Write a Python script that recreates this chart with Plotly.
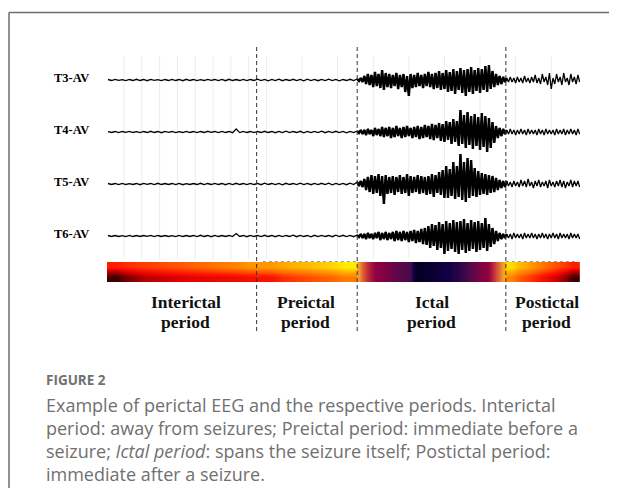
import plotly.graph_objects as go

# ---------------- data ----------------
channels = ["T3-AV", "T4-AV", "T5-AV", "T6-AV"]
channel_offset_uv = [1560, 1040, 520, 0]          # vertical offsets of the montage rows (µV)

period_names = ["Interictal", "Preictal", "Ictal", "Postictal"]
period_bounds_s = [83.5, 140.0, 223.5]            # dashed boundaries (s)
period_label_s = [43.8, 111.2, 182.0, 246.6]      # label centres (s)
record_end_s = 264.0

green_marks_s = [9, 19, 29, 39, 49, 59, 69, 79, 89, 109, 129, 149, 169, 189, 209, 229, 249]

# sample times of the amplitude envelopes
t_inter = list(range(0, 137, 4))        # interictal + preictal, 35 samples
t_ictal = list(range(140, 223, 2))      # ictal, 42 samples
t_post = list(range(224, 265, 2))       # postictal, 21 samples

# peak deflection above / below the baseline (µV)
env_up = {
    "T3-AV": [5,6,4,5,7,5,6,4,5,6,5,7,5,4,6,5,5,7,5,6,5,8,5,6,9,5,7,5,8,6,5,9,6,5,7]
           + [10,20,40,60,50,80,60,100,70,60,50,70,50,60,40,60,50,70,50,60,80,60,70,90,70,100,80,110,90,120,100,110,130,100,120,110,140,150,90,60,40,30]
           + [20,30,20,30,20,40,20,30,50,20,60,30,70,20,60,30,70,20,60,30,50],
    "T4-AV": [4,5,5,6,4,5,7,5,6,5,4,6,5,5,7,5,6,5,30,6,5,5,7,5,6,8,5,7,5,6,9,5,7,6,5]
           + [10,20,20,30,20,40,30,50,40,50,40,60,40,50,60,40,50,60,50,70,60,80,70,90,80,110,100,130,110,220,170,200,160,180,150,190,160,140,100,60,40,30]
           + [20,30,20,20,30,20,30,20,20,30,20,30,20,20,30,20,30,20,30,20,30],
    "T5-AV": [5,5,6,4,5,6,5,7,5,5,6,4,5,7,5,6,5,5,7,5,6,5,8,5,6,7,5,8,6,5,7,9,5,6,8]
           + [20,30,50,70,90,80,100,80,90,70,80,70,90,70,100,80,70,90,80,70,80,100,90,120,140,180,150,220,180,300,220,260,240,160,130,110,100,90,80,60,40,30]
           + [30,20,30,20,40,30,50,20,30,40,20,30,40,20,30,40,30,20,40,30,30],
    "T6-AV": [5,5,4,6,5,5,6,5,5,4,6,5,5,7,5,6,5,5,25,5,6,5,7,5,6,5,8,6,5,7,6,5,8,7,6]
           + [10,20,20,30,20,30,40,30,40,30,40,50,40,50,40,50,60,50,70,80,100,120,110,140,120,150,130,160,140,150,170,130,160,140,150,130,180,120,80,50,30,20]
           + [20,20,30,20,20,30,20,30,20,20,30,20,20,30,20,30,20,20,30,20,20],
}
env_dn = {
    "T3-AV": [5,4,6,5,5,7,4,6,5,5,7,5,6,5,4,6,7,5,5,6,5,6,8,5,7,5,6,9,5,7,6,5,8,5,6]
           + [10,20,40,50,70,60,80,100,70,80,60,90,70,120,160,80,70,60,80,60,70,90,80,100,90,120,110,140,100,130,160,120,140,110,130,100,120,90,70,50,40,20]
           + [20,20,30,20,30,20,30,20,30,40,20,50,90,40,20,50,20,50,20,40,20],
    "T4-AV": [5,6,4,5,6,5,5,7,4,6,5,5,6,5,4,6,5,7,6,5,6,5,5,7,5,6,5,8,6,5,7,6,5,8,6]
           + [10,20,30,20,40,30,40,50,40,60,50,40,60,50,40,60,50,70,60,50,70,80,60,90,100,80,120,100,140,120,160,130,170,140,180,150,200,160,110,60,40,20]
           + [20,20,30,20,20,30,20,20,30,20,30,20,20,30,20,20,30,20,20,30,20],
    "T5-AV": [5,6,5,5,7,4,6,5,5,6,7,5,5,6,5,5,7,6,5,6,5,7,5,6,8,5,6,5,7,6,5,8,6,7,5]
           + [20,30,60,80,100,90,120,200,100,90,110,80,100,90,120,90,80,100,90,110,100,130,90,110,140,140,120,150,130,160,180,140,120,130,110,100,110,90,80,60,40,30]
           + [20,30,20,30,20,30,20,40,20,30,20,40,20,30,20,30,40,20,30,20,30],
    "T6-AV": [5,5,6,5,5,4,6,5,5,6,5,5,6,5,7,5,5,6,5,7,5,6,5,7,6,5,7,5,8,6,5,7,6,5,7]
           + [10,20,30,20,30,20,40,30,40,30,50,40,50,40,60,50,70,60,80,90,120,100,140,120,180,150,130,160,180,140,170,150,130,160,140,120,150,110,80,50,30,20]
           + [20,30,20,20,30,20,20,20,30,20,20,30,20,20,30,20,20,30,20,20,30],
}

# state colour bar: sample times and levels (top edge / bottom edge of the bar)
bar_pre_s = [0, 20, 40, 62, 83, 85, 112, 139]
bar_pre_top = [0.55, 0.62, 0.68, 0.75, 0.82, 0.83, 0.90, 1.00]
bar_pre_bot = [0.08, 0.33, 0.42, 0.46, 0.50, 0.52, 0.65, 0.76]
bar_ictal_s = [140.5, 144.4, 148.3, 155.6, 163.0, 169.7, 170.6, 171.2, 181.0, 192.0, 200.6, 209.0, 214.6, 218.5, 222.0, 223.0]
bar_ictal_lvl = [0.92, 0.75, 0.58, 0.50, 0.40, 0.34, 0.32, 0.02, 0.08, 0.15, 0.30, 0.48, 0.58, 0.78, 0.92, 1.00]
bar_post_s = [224, 236, 250, 264.5]
bar_post_top = [0.97, 0.85, 0.68, 0.55]
bar_post_bot = [0.78, 0.62, 0.42, 0.08]

caption_head = "FIGURE 2"
caption_lines = [
    "Example of perictal EEG and the respective periods. Interictal",
    "period: away from seizures; Preictal period: immediate before a",
    "seizure; <i>Ictal period</i>: spans the seizure itself; Postictal period:",
    "immediate after a seizure.",
]

# ---------------- layout constants ----------------
OFF = 8                      # page body margin of the html page
W, H = 617 - OFF, 488 - OFF  # figure size so it fits the window
PX_PER_S = 1.78
X0_PX = 108
UV_PER_PX = 10.0
BASE_PX = 236                # screen row of the zero baseline (T6)


def fx(px):                  # screen column -> paper fraction
    return (px - OFF) / W


def fy(py):                  # screen row -> paper fraction
    return 1 - (py - OFF) / H


def px_to_s(px):
    return (px - X0_PX) / PX_PER_S


x_left_px, x_right_px = 107, 580
x_range = [px_to_s(x_left_px), px_to_s(x_right_px)]
y_top_px, y_bot_px = 40, 290
y_range = [(BASE_PX - y_bot_px) * UV_PER_PX, (BASE_PX - y_top_px) * UV_PER_PX]

fig = go.Figure()

t_all = t_inter + t_ictal + t_post
steps = [b - a for a, b in zip(t_all[:-1], t_all[1:])] + [2]
n_inter = len(t_inter)
n_ictal = len(t_ictal)
for name, off in zip(channels, channel_offset_uv):
    xs, ys = [], []
    for t, st, u, d in zip(t_all, steps, env_up[name], env_dn[name]):
        xs += [t, t + st / 2]
        ys += [off + u, off - d]
    fig.add_trace(go.Scatter(
        x=xs, y=ys, mode="lines",
        line=dict(color="#000000", width=1.3),
        hoverinfo="skip", showlegend=False, xaxis="x", yaxis="y"))
    # denser stroke over the seizure segment
    a, b = 2 * n_inter, 2 * (n_inter + n_ictal) + 1
    fig.add_trace(go.Scatter(
        x=xs[a:b], y=ys[a:b], mode="lines",
        line=dict(color="#000000", width=2.4),
        hoverinfo="skip", showlegend=False, xaxis="x", yaxis="y"))


def edges(centres, lo, hi):
    e = [lo]
    for a, b in zip(centres[:-1], centres[1:]):
        e.append((a + b) / 2)
    e.append(hi)
    return e


hot_scale = [[0, "#1a0000"], [0.2, "#700000"], [0.42, "#e00000"], [0.55, "#ff1a00"],
             [0.7, "#ff6000"], [0.85, "#ffa000"], [1, "#ffec00"]]
ictal_scale = [[0, "#000018"], [0.15, "#120048"], [0.35, "#4e0a4a"], [0.55, "#900040"],
               [0.75, "#d04838"], [0.9, "#f09030"], [1, "#ffb800"]]
y_edges = [-0.2, 0.5, 1.2]

fig.add_trace(go.Heatmap(
    x=edges(bar_pre_s, x_range[0], period_bounds_s[1]), y=y_edges,
    z=[bar_pre_bot, bar_pre_top], colorscale=hot_scale, zmin=0, zmax=1,
    zsmooth="best", showscale=False, hoverinfo="skip", xaxis="x", yaxis="y2"))
fig.add_trace(go.Heatmap(
    x=edges(bar_post_s, period_bounds_s[2], x_range[1]), y=y_edges,
    z=[bar_post_bot, bar_post_top], colorscale=hot_scale, zmin=0, zmax=1,
    zsmooth="best", showscale=False, hoverinfo="skip", xaxis="x", yaxis="y2"))
fig.add_trace(go.Heatmap(
    x=edges(bar_ictal_s, period_bounds_s[1], period_bounds_s[2]), y=y_edges,
    z=[bar_ictal_lvl, bar_ictal_lvl], colorscale=ictal_scale, zmin=0, zmax=1,
    zsmooth="best", showscale=False, hoverinfo="skip", xaxis="x", yaxis="y2"))

shapes = []
for t in green_marks_s:
    shapes.append(dict(type="line", xref="x", yref="paper", x0=t, x1=t,
                       y0=fy(259), y1=fy(56), layer="below",
                       line=dict(color="#e0f5e0", width=1)))
for t in period_bounds_s:
    shapes.append(dict(type="line", xref="x", yref="paper", x0=t, x1=t,
                       y0=fy(331), y1=fy(47), layer="above",
                       line=dict(color="#333333", width=1, dash="4px,3px")))
# dotted marks along the top of the bar
for a, b in [(87, period_bounds_s[1]), (period_bounds_s[2], record_end_s)]:
    shapes.append(dict(type="line", xref="x", yref="paper", x0=a, x1=b,
                       y0=fy(261.5), y1=fy(261.5), layer="above",
                       line=dict(color="#999999", width=1, dash="dot")))
# frame
shapes.append(dict(type="line", xref="paper", yref="paper", x0=fx(9), x1=1.01,
                   y0=fy(12.5), y1=fy(12.5), line=dict(color="#6e6e6e", width=1.5)))
shapes.append(dict(type="line", xref="paper", yref="paper", x0=fx(9), x1=fx(9),
                   y0=fy(12.5), y1=-0.01, line=dict(color="#6e6e6e", width=1.5)))

ann = []
for name, off in zip(channels, channel_offset_uv):
    ann.append(dict(text="<b>%s</b>" % name, xref="paper", yref="y", x=fx(52), y=off + 20,
                    xanchor="left", yanchor="middle", showarrow=False,
                    font=dict(family="Liberation Serif", size=12.5, color="#000000")))
for name, t in zip(period_names, period_label_s):
    ann.append(dict(text="<b>%s</b>" % name, xref="x", yref="paper", x=t, y=fy(302),
                    xanchor="center", yanchor="middle", showarrow=False,
                    font=dict(family="Liberation Serif", size=17.5, color="#111111")))
    ann.append(dict(text="<b>period</b>", xref="x", yref="paper", x=t, y=fy(322),
                    xanchor="center", yanchor="middle", showarrow=False,
                    font=dict(family="Liberation Serif", size=17.5, color="#111111")))

ann.append(dict(text="<b>%s</b>" % caption_head, xref="paper", yref="paper", x=fx(44), y=fy(380),
                xanchor="left", yanchor="middle", showarrow=False,
                font=dict(family="Open Sans", size=13.5, color="#707070")))
for i, line in enumerate(caption_lines):
    ann.append(dict(text=line, xref="paper", yref="paper", x=fx(44), y=fy(405 + 23 * i),
                    xanchor="left", yanchor="middle", showarrow=False,
                    font=dict(family="Open Sans", size=18, color="#707070")))

fig.update_layout(
    width=W, height=H, margin=dict(l=0, r=0, t=0, b=0),
    paper_bgcolor="white", plot_bgcolor="rgba(0,0,0,0)",
    xaxis=dict(domain=[fx(x_left_px), fx(x_right_px)], range=x_range, visible=False, anchor="y"),
    yaxis=dict(domain=[fy(y_bot_px), fy(y_top_px)], range=y_range, visible=False),
    yaxis2=dict(domain=[fy(282), fy(262)], range=[-0.2, 1.2], visible=False, anchor="x"),
    shapes=shapes, annotations=ann, showlegend=False,
)

fig.write_html("out.html")
